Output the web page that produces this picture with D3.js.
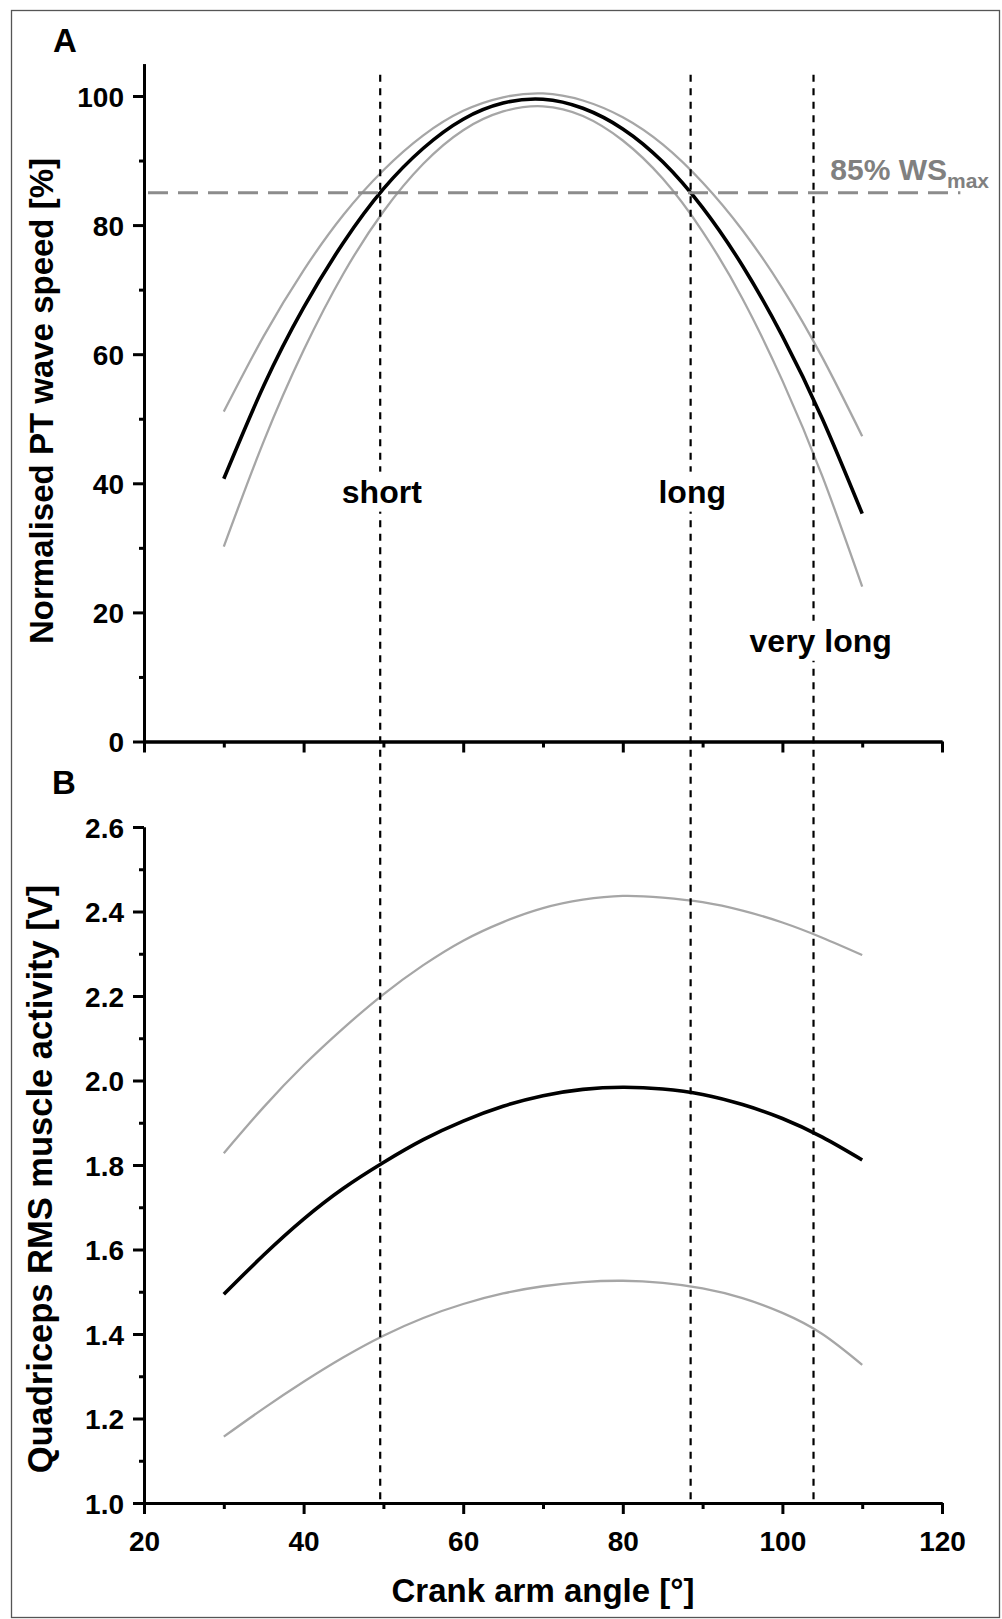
<!DOCTYPE html>
<html>
<head>
<meta charset="utf-8">
<script src="https://cdn.jsdelivr.net/npm/d3@7"></script>
<style>
  html, body { margin: 0; padding: 0; background: #fff; }
  svg { display: block; font-family: "Liberation Sans", Arial, sans-serif; font-weight: bold; }
</style>
</head>
<body>
<svg id="chart" width="1002" height="1619"></svg>
<script>
// Crank arm angle (degrees) at which the fitted curves are sampled
const angles = [30, 35, 40, 45, 50, 55, 60, 65, 70, 75, 80, 85, 90, 95, 100, 105, 110];

// Panel A: normalised patellar tendon wave speed (%), fit and band limits
const waveSpeedFit   = [40.7, 55.1, 67.2, 77.3, 85.6, 91.9, 96.4, 98.9, 99.5, 98.1, 94.9, 89.8, 82.7, 73.7, 62.8, 50.0, 35.3];
const waveSpeedUpper = [51.1, 62.8, 73.0, 81.6, 88.5, 93.9, 97.7, 99.8, 100.4, 99.3, 96.7, 92.5, 86.6, 79.2, 70.2, 59.5, 47.3];
const waveSpeedLower = [30.2, 46.5, 60.6, 72.5, 82.1, 89.5, 94.7, 97.6, 98.4, 96.9, 93.1, 87.2, 79.0, 68.6, 55.9, 41.1, 24.0];

// Panel B: quadriceps RMS muscle activity (V), fit and band limits
const rmsFit   = [1.494, 1.587, 1.672, 1.745, 1.806, 1.860, 1.904, 1.939, 1.964, 1.979, 1.984, 1.980, 1.967, 1.943, 1.910, 1.866, 1.812];
const rmsUpper = [1.828, 1.937, 2.036, 2.124, 2.204, 2.273, 2.331, 2.375, 2.408, 2.428, 2.437, 2.433, 2.422, 2.402, 2.374, 2.338, 2.297];
const rmsLower = [1.157, 1.224, 1.287, 1.345, 1.396, 1.438, 1.471, 1.496, 1.513, 1.523, 1.526, 1.521, 1.508, 1.485, 1.450, 1.400, 1.327];

// Muscle-length conditions (crank angle where the fit crosses 85 % of max)
const lengthNames  = ["short", "long", "very long"];
const lengthAngles = [49.6, 88.5, 103.9];
const thresholdPct = 85;

// Axis ticks
const xMajorTicks  = [20, 40, 60, 80, 100, 120];
const xMinorTicks  = [30, 50, 70, 90, 110];
const yAMajorTicks = [0, 20, 40, 60, 80, 100];
const yAMinorTicks = [10, 30, 50, 70, 90];
const yBMajorTicks = [1.0, 1.2, 1.4, 1.6, 1.8, 2.0, 2.2, 2.4, 2.6];
const yBMinorTicks = [1.1, 1.3, 1.5, 1.7, 1.9, 2.1, 2.3, 2.5];

// ---------------------------------------------------------------------------
const svg = d3.select("#chart");
const W = 1002, H = 1619;

svg.append("rect").attr("width", W).attr("height", H).attr("fill", "#fff");
svg.append("rect")
  .attr("x", 11.5).attr("y", 10.5).attr("width", 988).attr("height", 1607)
  .attr("fill", "none").attr("stroke", "#555").attr("stroke-width", 1.3);

const x = d3.scaleLinear().domain([20, 120]).range([144, 942]);
const yA = d3.scaleLinear().domain([0, 105]).range([741.5, 63.7]);
const yB = d3.scaleLinear().domain([1.0, 2.6]).range([1503, 827]);

const BLACK = "#000";
const BAND = "#a6a6a6";

function styleAxis(g, showLabels) {
  g.select(".domain").attr("stroke", BLACK).attr("stroke-width", 3);
  g.selectAll(".tick line").attr("stroke", BLACK).attr("stroke-width", 3);
  g.selectAll(".tick text")
    .attr("fill", BLACK)
    .style("font-size", "28px")
    .style("font-weight", "bold")
    .style("font-family", '"Liberation Sans", Arial, sans-serif');
  if (!showLabels) g.selectAll(".tick text").remove();
}

function drawAxes(yScale, yMajor, yMinor, yFormat, xBaseline, showXLabels) {
  // minor ticks first so the major axis line sits on top
  const gxMin = svg.append("g").attr("transform", `translate(0,${xBaseline})`)
    .call(d3.axisBottom(x).tickValues(xMinorTicks).tickSize(6).tickSizeOuter(0).tickFormat(""));
  styleAxis(gxMin, false);
  const gyMin = svg.append("g").attr("transform", `translate(${x(20)},0)`)
    .call(d3.axisLeft(yScale).tickValues(yMinor).tickSize(5).tickSizeOuter(0).tickFormat(""));
  styleAxis(gyMin, false);

  const gx = svg.append("g").attr("transform", `translate(0,${xBaseline})`)
    .call(d3.axisBottom(x).tickValues(xMajorTicks).tickSize(11).tickSizeOuter(0).tickPadding(17).tickFormat(d3.format("d")));
  styleAxis(gx, showXLabels);
  const gy = svg.append("g").attr("transform", `translate(${x(20)},0)`)
    .call(d3.axisLeft(yScale).tickValues(yMajor).tickSize(11).tickSizeOuter(0).tickPadding(9).tickFormat(yFormat));
  styleAxis(gy, true);
  gy.selectAll(".tick text").attr("dy", "0.36em");
}

drawAxes(yA, yAMajorTicks, yAMinorTicks, d3.format("d"), yA(0), false);
drawAxes(yB, yBMajorTicks, yBMinorTicks, d3.format(".1f"), yB(1.0), true);

// curves
function drawCurve(values, yScale, color, width) {
  const line = d3.line()
    .x((d, i) => x(angles[i]))
    .y(d => yScale(d))
    .curve(d3.curveNatural);
  svg.append("path")
    .datum(values)
    .attr("d", line)
    .attr("fill", "none")
    .attr("stroke", color)
    .attr("stroke-width", width)
    .attr("stroke-linejoin", "round");
}

drawCurve(waveSpeedUpper, yA, BAND, 2.3);
drawCurve(waveSpeedLower, yA, BAND, 2.3);
drawCurve(waveSpeedFit, yA, BLACK, 3.6);
drawCurve(rmsUpper, yB, BAND, 2.3);
drawCurve(rmsLower, yB, BAND, 2.3);
drawCurve(rmsFit, yB, BLACK, 3.6);

// 85 % threshold line
svg.append("line")
  .attr("x1", x(20)).attr("x2", x(122.3))
  .attr("y1", yA(thresholdPct)).attr("y2", yA(thresholdPct))
  .attr("stroke", "#8c8c8c").attr("stroke-width", 3)
  .attr("stroke-dasharray", "20,10").attr("stroke-dashoffset", 26);

const thr = svg.append("text")
  .attr("x", x(106)).attr("y", yA(87))
  .attr("fill", "#808080")
  .style("font-size", "30px");
thr.append("tspan").text("85% WS");
thr.append("tspan").attr("dy", 8).style("font-size", "21px").text("max");

// vertical muscle-length markers spanning both panels
svg.selectAll("line.marker")
  .data(lengthAngles)
  .enter().append("line")
  .attr("class", "marker")
  .attr("x1", d => x(d)).attr("x2", d => x(d))
  .attr("y1", yA(103.3)).attr("y2", yB(1.0))
  .attr("stroke", BLACK).attr("stroke-width", 2.2)
  .attr("stroke-dasharray", "7,6.5");

// labels with white backing so the marker lines break behind them
const labelAngles = [49.8, 88.7, 104.8];
const labelValues = [37, 37, 13.9];
lengthNames.forEach((name, i) => {
  const g = svg.append("g");
  const t = g.append("text")
    .attr("x", x(labelAngles[i])).attr("y", yA(labelValues[i]))
    .attr("text-anchor", "middle")
    .attr("fill", BLACK)
    .style("font-size", "32px")
    .text(name);
  const bb = t.node().getBBox();
  g.insert("rect", "text")
    .attr("x", bb.x - 3).attr("y", bb.y - 2)
    .attr("width", bb.width + 6).attr("height", bb.height + 4)
    .attr("fill", "#fff");
});

// panel letters
svg.append("text").attr("x", 53).attr("y", 52).style("font-size", "33px").text("A");
svg.append("text").attr("x", 52).attr("y", 794).style("font-size", "33px").text("B");

// axis titles
svg.append("text")
  .attr("transform", "translate(53,401) rotate(-90)")
  .attr("text-anchor", "middle")
  .style("font-size", "33px")
  .text("Normalised PT wave speed [%]");

svg.append("text")
  .attr("transform", "translate(52,1179) rotate(-90)")
  .attr("text-anchor", "middle")
  .style("font-size", "34.5px")
  .text("Quadriceps RMS muscle activity [V]");

svg.append("text")
  .attr("x", (x(20) + x(120)) / 2).attr("y", 1602)
  .attr("text-anchor", "middle")
  .style("font-size", "33px")
  .text("Crank arm angle [°]");
</script>
</body>
</html>
